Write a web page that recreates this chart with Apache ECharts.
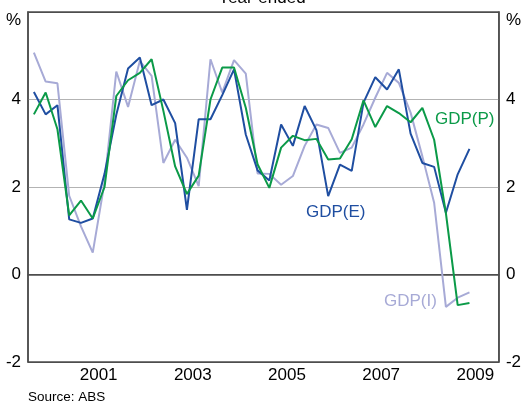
<!DOCTYPE html>
<html>
<head>
<meta charset="utf-8">
<script src="https://cdn.jsdelivr.net/npm/echarts@6/dist/echarts.min.js"></script>
<style>
  html, body { margin: 0; padding: 0; background: #fff; }
  #chart { width: 524px; height: 406px; }
</style>
</head>
<body>
<div id="chart"></div>
<script>
const years = ["2000", "2001", "2002", "2003", "2004", "2005", "2006", "2007", "2008", "2009"];
const quarters = years.flatMap(y => ["Mar", "Jun", "Sep", "Dec"].map(q => `${q} ${y}`));

// year-ended growth, %, Mar 2000 .. Jun 2009
const gdpE = [4.17, 3.66, 3.87, 1.26, 1.18, 1.28, 2.3, 3.65, 4.71, 4.96, 3.87, 4.0, 3.46, 1.48, 3.55, 3.55,
  4.10, 4.69, 3.2, 2.38, 2.15, 3.43, 2.94, 3.85, 3.3, 1.79, 2.51, 2.37, 3.93, 4.51, 4.23, 4.69, 3.22, 2.55,
  2.46, 1.41, 2.29, 2.87];
const gdpP = [3.66, 4.16, 3.32, 1.35, 1.69, 1.28, 2.0, 4.08, 4.44, 4.61, 4.92, 3.74, 2.47, 1.84, 2.26, 4.0,
  4.73, 4.73, 3.81, 2.52, 1.98, 2.90, 3.17, 3.07, 3.10, 2.63, 2.65, 3.09, 3.98, 3.37, 3.85, 3.69, 3.48, 3.81,
  3.08, 1.4, -0.7, -0.65];
const gdpI = [5.07, 4.41, 4.37, 1.8, 1.1, 0.5, 2.1, 4.64, 3.83, 4.88, 4.54, 2.55, 3.08, 2.67, 2.02, 4.92,
  4.16, 4.90, 4.59, 2.31, 2.30, 2.05, 2.25, 2.94, 3.43, 3.35, 2.78, 2.9, 3.43, 4.04, 4.61, 4.38, 3.70, 2.7,
  1.64, -0.74, -0.53, -0.41];

const colors = { E: "#1f4ea1", P: "#0b9a48", I: "#a7aad6" };
const font = "Liberation Sans, Arial, sans-serif";
const axisGrey = "#4d4d4d";

const yLabel = {
  color: "#000",
  fontSize: 17,
  fontFamily: font,
  margin: 7,
  formatter: v => (v === 6 ? "{p|%}" : String(v)),
  rich: { p: { fontSize: 17, fontFamily: font, color: "#000", padding: [16, 0, 0, 0] } }
};

const chart = echarts.init(document.getElementById("chart"), null, { renderer: "canvas" });
chart.setOption({
  animation: false,
  grid: { left: 28, right: 24, top: 12, bottom: 44, show: true, borderColor: axisGrey, borderWidth: 1.5 },
  xAxis: [
    {
      type: "category",
      data: years,
      boundaryGap: true,
      axisLine: { lineStyle: { color: axisGrey, width: 1.5 } },
      axisTick: { inside: true, length: 7, lineStyle: { color: axisGrey, width: 1 } },
      axisLabel: {
        interval: 0,
        margin: 5,
        color: "#000",
        fontSize: 17,
        fontFamily: font,
        formatter: v => (Number(v) % 2 === 1 ? v : "")
      },
      splitLine: { show: false }
    },
    {
      type: "category",
      data: quarters,
      boundaryGap: true,
      show: false
    }
  ],
  yAxis: [
    {
      type: "value",
      min: -2,
      max: 6,
      interval: 2,
      position: "left",
      axisLine: { show: true, lineStyle: { color: axisGrey, width: 1.5 } },
      axisTick: { show: false },
      axisLabel: yLabel,
      splitLine: { lineStyle: { color: ["#4d4d4d", "#4d4d4d", "#b3b3b3", "#b3b3b3", "#4d4d4d"], width: 1.2 } }
    },
    {
      type: "value",
      min: -2,
      max: 6,
      interval: 2,
      position: "right",
      axisLine: { show: true, lineStyle: { color: axisGrey, width: 1.5 } },
      axisTick: { show: false },
      axisLabel: yLabel,
      splitLine: { show: false }
    }
  ],
  series: [
    { name: "GDP(I)", type: "line", xAxisIndex: 1, data: gdpI, showSymbol: false, lineStyle: { color: colors.I, width: 2 } },
    { name: "GDP(E)", type: "line", xAxisIndex: 1, data: gdpE, showSymbol: false, lineStyle: { color: colors.E, width: 2 } },
    { name: "GDP(P)", type: "line", xAxisIndex: 1, data: gdpP, showSymbol: false, lineStyle: { color: colors.P, width: 2 } }
  ],
  graphic: [
    { type: "text", left: "center", top: -10, style: { text: "Year-ended", fontSize: 17, fontFamily: font, fill: "#000" } },
    { type: "text", left: 28, top: 390, style: { text: "Source: ABS", fontSize: 13.5, fontFamily: font, fill: "#000" } },
    { type: "text", left: 435, top: 111, style: { text: "GDP(P)", fontSize: 17, fontFamily: font, fill: colors.P } },
    { type: "text", left: 306, top: 204, style: { text: "GDP(E)", fontSize: 17, fontFamily: font, fill: colors.E } },
    { type: "text", left: 384, top: 293, style: { text: "GDP(I)", fontSize: 17, fontFamily: font, fill: colors.I } }
  ]
});
</script>
</body>
</html>
